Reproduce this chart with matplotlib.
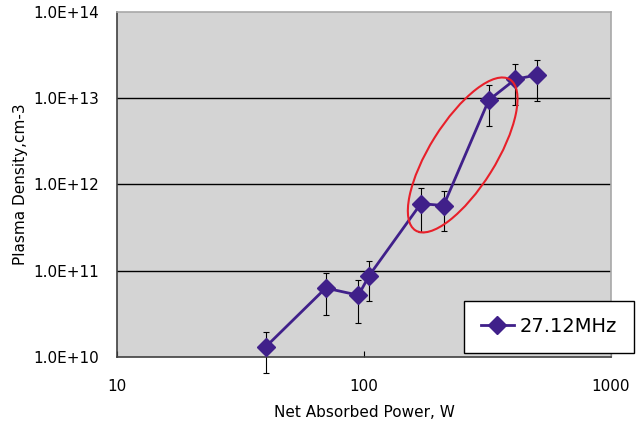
import matplotlib
matplotlib.use('Agg')
import matplotlib.pyplot as plt
from matplotlib.patches import Ellipse
from matplotlib.transforms import IdentityTransform

power = [40, 70, 95, 105, 170, 210, 320, 410, 500]
density = [1.31e10, 6.3e10, 5.2e10, 8.8e10, 6.0e11, 5.7e11, 9.5e12, 1.66e13, 1.86e13]
density_err = [0.65e10, 3.2e10, 2.7e10, 4.3e10, 3.2e11, 2.8e11, 4.7e12, 8.3e12, 9.3e12]
yticks = [1e10, 1e11, 1e12, 1e13, 1e14]
ytick_labels = ['1.0E+10', '1.0E+11', '1.0E+12', '1.0E+13', '1.0E+14']
xticks = [10, 100, 1000]
xtick_labels = ['10', '100', '1000']

plt.rcParams['font.family'] = ['DejaVu Sans']

fig = plt.figure(figsize=(6.39, 4.28), dpi=100)
ax = fig.add_axes([0.1831, 0.1659, 0.7730, 0.8061])
ax.set_facecolor('#D4D4D4')
ax.set_xscale('log')
ax.set_yscale('log')
ax.set_xlim(10, 1000)
ax.set_ylim(1e10, 1e14)

for y in yticks[1:-1]:
    ax.axhline(y, color='black', lw=1, zorder=1)

ax.errorbar(power, density, yerr=density_err, fmt='none', ecolor='black',
            elinewidth=0.8, capsize=2.5, capthick=0.8, zorder=2, clip_on=False)
line, = ax.plot(power, density, color='#40208A', lw=2, marker='D',
                markersize=9, zorder=3, label='27.12MHz', clip_on=False)

ax.set_xticks(xticks)
ax.set_xticklabels(xtick_labels)
ax.set_yticks(yticks)
ax.set_yticklabels(ytick_labels)
ax.minorticks_off()
ax.tick_params(axis='x', direction='in', length=4, pad=16, labelsize=11)
ax.tick_params(axis='y', direction='in', length=0, pad=13, labelsize=11)

for side in ['left', 'bottom']:
    ax.spines[side].set_color('#404040')
    ax.spines[side].set_linewidth(1.2)
for side in ['top', 'right']:
    ax.spines[side].set_color('#A8A8A8')
    ax.spines[side].set_linewidth(1.2)

ax.set_xlabel('Net Absorbed Power, W', fontsize=11, labelpad=8)
ax.set_ylabel('Plasma Density,cm-3', fontsize=11, labelpad=4)

# red ellipse around the jump region
cx, cy = ax.transData.transform((251, 2.2e12))
ax.add_patch(Ellipse((cx, cy), 178, 66, angle=58, transform=IdentityTransform(),
                     fill=False, edgecolor='#E8202A', lw=1.5, zorder=4))

leg = fig.legend(handles=[line], loc='center', bbox_to_anchor=(0.859, 0.237),
                 fontsize=14, frameon=True, fancybox=False, framealpha=1,
                 handlelength=1.7, handletextpad=0.3, borderpad=0.85)
leg.get_frame().set_edgecolor('black')
leg.get_frame().set_linewidth(1)

fig.savefig('out.png', dpi=100)
